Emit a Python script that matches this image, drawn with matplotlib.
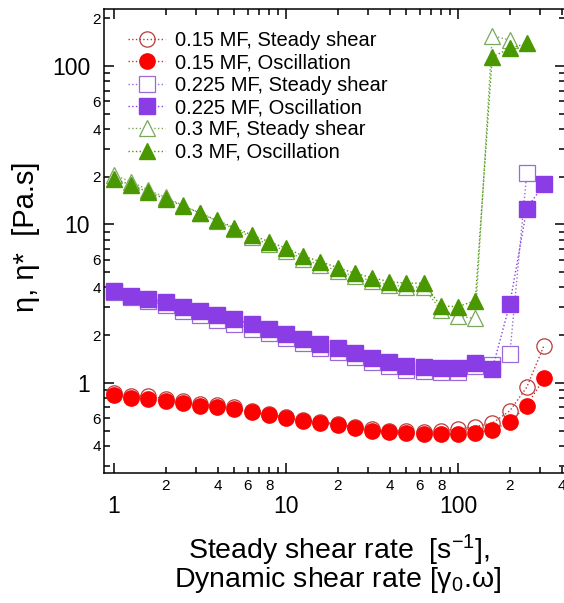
import numpy as np
import matplotlib.pyplot as plt
from matplotlib.ticker import FixedLocator, FixedFormatter

plt.rcParams['font.family'] = ['Liberation Sans', 'DejaVu Sans']
plt.rcParams['mathtext.fontset'] = 'custom'
plt.rcParams['mathtext.rm'] = 'Liberation Sans'
plt.rcParams['mathtext.it'] = 'Liberation Sans'

# shear rate / angular frequency points (1/s)
rate = [1, 1.26, 1.58, 2, 2.51, 3.16, 3.98, 5.01, 6.31, 7.94,
        10, 12.6, 15.8, 20, 25.1, 31.6, 39.8, 50.1, 63.1, 79.4,
        100, 126, 158, 200, 251, 316]

# viscosity (Pa.s)
mf015_steady = [0.86, 0.83, 0.83, 0.79, 0.77, 0.74, 0.72, 0.70, 0.665, 0.635,
                0.61, 0.585, 0.57, 0.55, 0.53, 0.51, 0.50, 0.495, 0.49, 0.50,
                0.51, 0.53, 0.557, 0.666, 0.94, 1.72]
mf015_osc = [0.84, 0.80, 0.79, 0.773, 0.751, 0.716, 0.703, 0.683, 0.653, 0.625,
             0.60, 0.578, 0.562, 0.543, 0.522, 0.50, 0.491, 0.482, 0.477, 0.475,
             0.475, 0.486, 0.505, 0.565, 0.719, 1.07]
mf0225_steady = [3.75, 3.50, 3.30, 3.10, 2.85, 2.68, 2.50, 2.36, 2.20, 2.05,
                 1.91, 1.78, 1.66, 1.56, 1.45, 1.36, 1.28, 1.21, 1.19, 1.17,
                 1.18, 1.27, 1.30, 1.52, 21.0]
mf0225_osc = [3.80, 3.56, 3.39, 3.24, 3.03, 2.86, 2.67, 2.52, 2.35, 2.18,
              2.03, 1.89, 1.76, 1.655, 1.54, 1.445, 1.363, 1.286, 1.262, 1.238,
              1.249, 1.343, 1.22, 3.15, 12.6, 18.0]
mf03_steady = [20.5, 18.6, 16.5, 14.8, 13.2, 11.8, 10.5, 9.4, 8.3, 7.5,
               6.8, 6.05, 5.55, 5.1, 4.7, 4.4, 4.15, 4.05, 4.0, 2.88,
               2.64, 2.55, 155, 146]
mf03_osc = [19.3, 17.8, 16.0, 14.5, 13.1, 11.8, 10.6, 9.55, 8.59, 7.79,
            7.08, 6.33, 5.82, 5.34, 4.92, 4.62, 4.35, 4.26, 4.26, 3.06,
            3.03, 3.30, 114, 129, 139]

labels = ['0.15 MF, Steady shear', '0.15 MF, Oscillation',
          '0.225 MF, Steady shear', '0.225 MF, Oscillation',
          '0.3 MF, Steady shear', '0.3 MF, Oscillation']

fig = plt.figure(figsize=(5.64, 6.03), dpi=100)
ax = fig.add_axes([0.1844, 0.2156, 0.8175, 0.7695])

red, red_open = '#ff0000', '#b83a3a'
purple, purple_open = '#8a3de4', '#9a6ad8'
green, green_open = '#4a9800', '#78a85a'

ax.plot(rate[:len(mf015_steady)], mf015_steady, ls=':', lw=1, color=red_open,
        marker='o', ms=11, mfc='none', mec=red_open, mew=0.9, label=labels[0], zorder=2)
ax.plot(rate[:len(mf015_osc)], mf015_osc, ls=':', lw=1, color='#d03030',
        marker='o', ms=11, mfc=red, mec=red, label=labels[1], zorder=3)
ax.plot(rate[:len(mf0225_steady)], mf0225_steady, ls=':', lw=1, color=purple_open,
        marker='s', ms=11, mfc='white', mec=purple_open, mew=0.9, label=labels[2], zorder=2)
ax.plot(rate[:len(mf0225_osc)], mf0225_osc, ls=':', lw=1, color=purple,
        marker='s', ms=11, mfc=purple, mec=purple, label=labels[3], zorder=3)
ax.plot(rate[:len(mf03_steady)], mf03_steady, ls=':', lw=1, color=green_open,
        marker='^', ms=12, mfc='white', mec=green_open, mew=0.9, label=labels[4], zorder=2)
ax.plot(rate[:len(mf03_osc)], mf03_osc, ls=':', lw=1, color=green,
        marker='^', ms=12, mfc=green, mec=green, label=labels[5], zorder=3)

ax.set_xscale('log')
ax.set_yscale('log')
ax.set_xlim(0.875, 419)
ax.set_ylim(0.27, 229)

# x ticks: decades labelled below, selected minors labelled close to axis
ax.xaxis.set_major_locator(FixedLocator([1, 10, 100]))
ax.xaxis.set_major_formatter(FixedFormatter(['1', '10', '100']))
xminor = [2, 3, 4, 5, 6, 7, 8, 9, 20, 30, 40, 50, 60, 70, 80, 90, 200, 300, 400]
xminor_lab = ['2', '', '4', '', '6', '', '8', '', '2', '', '4', '', '6', '', '8', '',
              '2', '', '4']
ax.xaxis.set_minor_locator(FixedLocator(xminor))
ax.xaxis.set_minor_formatter(FixedFormatter(xminor_lab))

ax.yaxis.set_major_locator(FixedLocator([1, 10, 100]))
ax.yaxis.set_major_formatter(FixedFormatter(['1', '10', '100']))
yminor = [0.3, 0.4, 0.5, 0.6, 0.7, 0.8, 0.9, 2, 3, 4, 5, 6, 7, 8, 9,
          20, 30, 40, 50, 60, 70, 80, 90, 200]
yminor_lab = ['', '4', '', '6', '', '', '', '2', '', '4', '', '6', '', '', '',
              '2', '', '4', '', '6', '', '', '', '2']
ax.yaxis.set_minor_locator(FixedLocator(yminor))
ax.yaxis.set_minor_formatter(FixedFormatter(yminor_lab))

ax.tick_params(which='both', direction='in', top=True, right=True, width=1.1, color='black')
ax.tick_params(which='major', length=7)
ax.tick_params(which='minor', length=4)
ax.tick_params(axis='x', which='major', labelsize=16.5, pad=16)
ax.tick_params(axis='x', which='minor', labelsize=11, pad=4)
ax.tick_params(axis='y', which='major', labelsize=16.5, pad=10)
ax.tick_params(axis='y', which='minor', labelsize=11, pad=2)
for sp in ax.spines.values():
    sp.set_linewidth(1.1)

fig.text(0.046, 0.608, 'η, η*  [Pa.s]', rotation=90, fontsize=21,
         ha='center', va='center')
fig.text(0.601, 0.088, 'Steady shear rate  [s$^{-1}$],', fontsize=20.5,
         ha='center', va='center')
fig.text(0.599, 0.038, 'Dynamic shear rate [γ$_0$.ω]', fontsize=20.5,
         ha='center', va='center')

ax.legend(loc='upper left', bbox_to_anchor=(0.227, 0.949), bbox_transform=fig.transFigure,
          frameon=False, fontsize=14.5, borderpad=0, borderaxespad=0,
          handlelength=1.85, handletextpad=0.5, labelspacing=0.17)

fig.savefig('out.png', dpi=100)
